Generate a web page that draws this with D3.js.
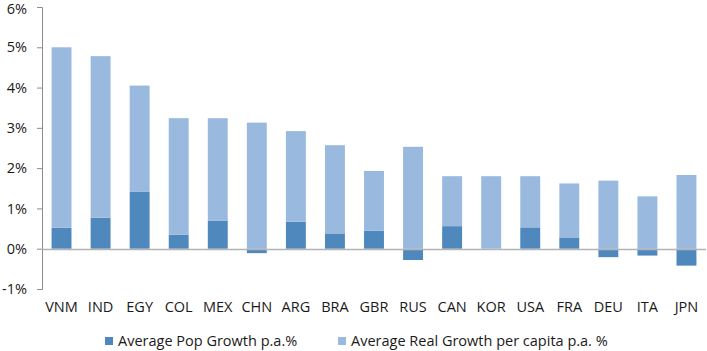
<!DOCTYPE html>
<html>
<head>
<meta charset="utf-8">
<script src="https://cdn.jsdelivr.net/npm/d3@7"></script>
<style>
  body { margin: 0; background: #fff; }
  text { font-family: "Open Sans", sans-serif; fill: #1a1a1a; }
</style>
</head>
<body>
<div id="chart"></div>
<script>
// countries and values (% p.a.)
countries = ["VNM","IND","EGY","COL","MEX","CHN","ARG","BRA","GBR","RUS","CAN","KOR","USA","FRA","DEU","ITA","JPN"]
popGrowth  = [0.52, 0.77, 1.41, 0.35, 0.70, -0.11, 0.67, 0.38, 0.45, -0.28, 0.56, 0.00, 0.53, 0.28, -0.21, -0.17, -0.42]
realGrowth = [4.48, 4.01, 2.64, 2.89, 2.54, 3.13, 2.25, 2.19, 1.48, 2.53, 1.24, 1.80, 1.27, 1.34, 1.69, 1.30, 1.83]
yTicks = [-1, 0, 1, 2, 3, 4, 5, 6]
seriesNames = ["Average Pop Growth p.a.%", "Average Real Growth per capita p.a. %"]
colors = ["#4f88bc", "#99b9df"]

W = 707, H = 351
margin = {top: 7, right: 1, bottom: 62, left: 42}
width = W - margin.left - margin.right
height = H - margin.top - margin.bottom

svg = d3.select("#chart").append("svg")
  .attr("width", W).attr("height", H)
g = svg.append("g").attr("transform", `translate(${margin.left},${margin.top})`)

table = countries.map((c, i) => ({country: c, pop: popGrowth[i], real: realGrowth[i]}))
stack = d3.stack().keys(["pop", "real"]).offset(d3.stackOffsetDiverging)(table)

x = d3.scaleBand().domain(countries).range([0, width]).paddingInner(0.49).paddingOuter(0.245)
y = d3.scaleLinear().domain([-1, 6]).range([height, 0])

// y axis
yAxis = g.append("g")
  .call(d3.axisLeft(y).tickValues(yTicks).tickSize(5).tickPadding(10).tickFormat(d => d + "%"))
yAxis.select(".domain").attr("stroke", "#8c8c8c").attr("d", `M-5,${height+0.5}H0.5V0.5H-5`)
yAxis.selectAll(".tick line").attr("stroke", "#8c8c8c")
yAxis.selectAll(".tick text").style("font-size", "14.5px").attr("fill", "#1a1a1a")
  .attr("dy", d => d == 6 ? "0.45em" : "0.32em")

// bars
g.selectAll(".series")
  .data(stack)
  .join("g")
    .attr("fill", (d, i) => colors[i])
  .selectAll("rect")
  .data(d => d)
  .join("rect")
    .attr("x", d => x(d.data.country))
    .attr("y", d => y(Math.max(d[0], d[1])))
    .attr("width", x.bandwidth())
    .attr("height", d => Math.abs(y(d[0]) - y(d[1])))

// zero line
g.append("line")
  .attr("x1", 0).attr("x2", width)
  .attr("y1", Math.round(y(0)) + 0.5).attr("y2", Math.round(y(0)) + 0.5)
  .attr("stroke", "#b3b3b3").attr("stroke-width", 1.5)

// category labels
g.append("g")
  .selectAll("text")
  .data(countries)
  .join("text")
    .attr("x", d => x(d) + x.bandwidth() / 2)
    .attr("y", height + 23)
    .attr("text-anchor", "middle")
    .style("font-size", "14.5px")
    .text(d => d)

// legend
legendX = [105, 338]
legend = svg.append("g").selectAll("g")
  .data(seriesNames)
  .join("g")
    .attr("transform", (d, i) => `translate(${legendX[i]}, 341)`)
legend.append("rect")
  .attr("x", 0).attr("y", -4).attr("width", 8).attr("height", 8)
  .attr("fill", (d, i) => colors[i])
legend.append("text")
  .attr("x", 13).attr("y", 5)
  .style("font-size", "14.5px")
  .text(d => d)
</script>
</body>
</html>
